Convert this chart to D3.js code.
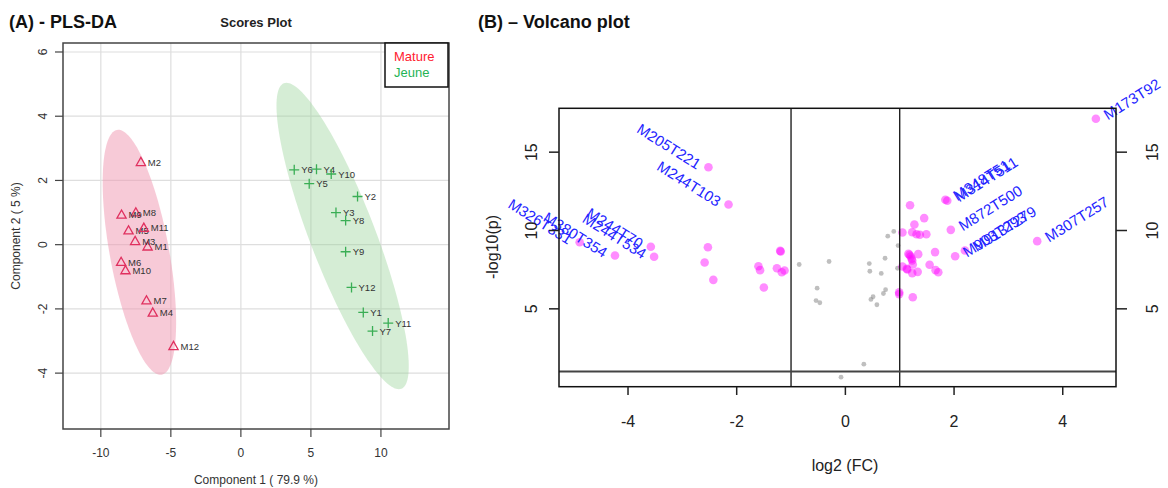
<!DOCTYPE html>
<html><head><meta charset="utf-8">
<script src="https://cdn.jsdelivr.net/npm/d3@7"></script>
<style>body{margin:0;background:#fff;} svg{display:block;font-family:"Liberation Sans",Arial,sans-serif;}</style>
</head><body><svg id="c" width="1168" height="488"></svg>
<script>
// ---------- Panel A data (PLS-DA scores) ----------
const matureLabels = ["M1","M2","M3","M4","M5","M6","M7","M8","M9","M10","M11","M12"];
const matureX = [-6.66,-7.14,-7.55,-6.29,-8.02,-8.55,-6.74,-7.50,-8.52,-8.24,-6.93,-4.81];
const matureY = [-0.06, 2.57, 0.11,-2.12, 0.44,-0.54,-1.74, 1.00, 0.93,-0.80, 0.52,-3.16];
const jeuneLabels = ["Y1","Y2","Y3","Y4","Y5","Y6","Y7","Y8","Y9","Y10","Y11","Y12"];
const jeuneX = [8.74, 8.33, 6.79, 5.40, 4.88, 3.81, 9.40, 7.48, 7.48, 6.45,10.52, 7.90];
const jeuneY = [-2.11, 1.50, 1.00, 2.35, 1.90, 2.33,-2.69, 0.75,-0.22, 2.20,-2.44,-1.33];
const scoreXTicks = [-10,-5,0,5,10];
const scoreYTicks = [-4,-2,0,2,4,6];
const legendNames = ["Mature","Jeune"];

// ---------- Panel B data (volcano) ----------
const sigX = [-4.89,-4.24,-3.58,-3.52,-2.52,-2.15,-2.53,-2.59,-2.43,-1.60,-1.57,-1.50,-1.19,-1.20,-1.26,-1.17,-1.12,
  1.19,1.45,1.27,1.05,1.23,1.31,1.37,1.49,1.16,1.18,1.20,1.22,1.23,1.24,1.34,1.05,1.13,1.14,1.23,1.33,1.55,1.65,1.66,1.71,
  0.99,0.99,1.24,2.02,2.20,1.94,1.84,1.875,3.53,4.61];
const sigY = [9.25,8.40,8.96,8.32,14.04,11.66,8.93,7.96,6.85,7.72,7.47,6.36,8.66,8.70,7.59,7.34,7.45,
  11.61,10.79,10.38,9.87,9.89,9.76,9.73,9.76,8.51,8.45,8.34,8.20,8.09,7.83,8.49,7.70,7.56,7.51,7.28,7.36,7.81,8.62,7.47,7.34,
  6.06,5.94,5.74,8.36,8.72,10.04,11.96,11.90,9.32,17.13];
const grayX = [-0.85,-0.30,-0.52,-0.54,-0.47,0.44,0.45,0.66,0.73,0.78,0.89,0.97,0.96,0.74,0.70,0.51,0.47,0.58,0.34,-0.08];
const grayY = [7.83,8.02,6.32,5.53,5.39,7.89,7.40,7.26,8.23,9.64,9.94,9.04,7.59,6.22,5.98,5.77,5.60,5.26,1.47,0.64];
const labelNames = ["M326T331","M380T354","M244T70","M244T534","M205T221","M244T103",
  "M903T293","M913T279","M872T500","M348T51","M314T511","M307T257","M173T92"];
const labelIdx = [0,1,2,3,4,5,44,45,46,47,48,49,50];
const volXTicks = [-4,-2,0,2,4];
const volYTicks = [5,10,15];
const fcThresh = [-1,1];
const pThresh = 1.0;

const svg = d3.select("#c");

// ================= Panel A =================
svg.append("text").attr("x",9).attr("y",22).attr("dominant-baseline","central")
  .attr("font-size",18).attr("font-weight","bold").attr("fill","#111").text("(A) - PLS-DA");
svg.append("text").attr("x",256).attr("y",22).attr("dominant-baseline","central").attr("text-anchor","middle")
  .attr("font-size",13).attr("font-weight","bold").attr("fill","#222").text("Scores Plot");

const ax = d3.scaleLinear().domain([-12.7,14.86]).range([63,449]);
const ay = d3.scaleLinear().domain([-5.74,6.28]).range([429,43]);

const gA = svg.append("g");
svg.append("clipPath").attr("id","clipA").append("rect").attr("x",63).attr("y",43).attr("width",386).attr("height",386);

gA.selectAll("line.gx").data(scoreXTicks).enter().append("line")
  .attr("x1",d=>ax(d)).attr("x2",d=>ax(d)).attr("y1",43).attr("y2",429).attr("stroke","#dedede").attr("stroke-width",1.2);
gA.selectAll("line.gy").data(scoreYTicks).enter().append("line")
  .attr("y1",d=>ay(d)).attr("y2",d=>ay(d)).attr("x1",63).attr("x2",449).attr("stroke","#dedede").attr("stroke-width",1.2);

function ellipse(xs, ys){
  const n = xs.length, mx = d3.mean(xs), my = d3.mean(ys);
  let sxx=0, syy=0, sxy=0;
  for(let i=0;i<n;i++){const dx=xs[i]-mx, dy=ys[i]-my; sxx+=dx*dx; syy+=dy*dy; sxy+=dx*dy;}
  sxx/=(n-1); syy/=(n-1); sxy/=(n-1);
  const tr=sxx+syy, det=sxx*syy-sxy*sxy, disc=Math.sqrt(tr*tr/4-det);
  const l1=tr/2+disc, l2=tr/2-disc;
  const th=Math.atan2(l1-sxx, sxy);
  const k=Math.sqrt(5.991);
  const pts=[];
  for(let i=0;i<=160;i++){
    const t=i/160*2*Math.PI;
    const u=k*Math.sqrt(l1)*Math.cos(t), v=k*Math.sqrt(l2)*Math.sin(t);
    pts.push([mx+u*Math.cos(th)-v*Math.sin(th), my+u*Math.sin(th)+v*Math.cos(th)]);
  }
  return pts;
}
const line = d3.line().x(d=>ax(d[0])).y(d=>ay(d[1]));
gA.append("path").attr("d",line(ellipse(matureX,matureY))).attr("fill","rgb(240,150,175)").attr("fill-opacity",0.5).attr("clip-path","url(#clipA)");
gA.append("path").attr("d",line(ellipse(jeuneX,jeuneY))).attr("fill","rgb(150,210,150)").attr("fill-opacity",0.4).attr("clip-path","url(#clipA)");

matureX.forEach((x,i)=>{
  const cx=ax(x), cy=ay(matureY[i]);
  gA.append("path").attr("d",`M${cx},${cy-4.8}L${cx+4.6},${cy+3.4}L${cx-4.6},${cy+3.4}Z`)
    .attr("fill","none").attr("stroke","#e0305f").attr("stroke-width",1.3);
  gA.append("text").attr("x",cx+7).attr("y",cy).attr("dominant-baseline","central")
    .attr("font-size",9.5).attr("fill","#333").text(matureLabels[i]);
});
jeuneX.forEach((x,i)=>{
  const cx=ax(x), cy=ay(jeuneY[i]);
  gA.append("path").attr("d",`M${cx-5},${cy}H${cx+5}M${cx},${cy-5}V${cy+5}`)
    .attr("fill","none").attr("stroke","#3aae55").attr("stroke-width",1.3);
  gA.append("text").attr("x",cx+7).attr("y",cy).attr("dominant-baseline","central")
    .attr("font-size",9.5).attr("fill","#333").text(jeuneLabels[i]);
});

gA.append("rect").attr("x",63).attr("y",43).attr("width",386).attr("height",386)
  .attr("fill","none").attr("stroke","#444").attr("stroke-width",1.5);

gA.selectAll("line.tx").data(scoreXTicks).enter().append("line")
  .attr("x1",d=>ax(d)).attr("x2",d=>ax(d)).attr("y1",429).attr("y2",437).attr("stroke","#444").attr("stroke-width",1.2);
gA.selectAll("text.tx").data(scoreXTicks).enter().append("text")
  .attr("x",d=>ax(d)).attr("y",453).attr("text-anchor","middle").attr("dominant-baseline","central")
  .attr("font-size",12).attr("fill","#333").text(d=>d);
gA.selectAll("line.ty").data(scoreYTicks).enter().append("line")
  .attr("y1",d=>ay(d)).attr("y2",d=>ay(d)).attr("x1",55).attr("x2",63).attr("stroke","#444").attr("stroke-width",1.2);
gA.selectAll("text.ty").data(scoreYTicks).enter().append("text")
  .attr("transform",d=>`translate(43,${ay(d)}) rotate(-90)`).attr("text-anchor","middle").attr("dominant-baseline","central")
  .attr("font-size",12).attr("fill","#333").text(d=>d);
gA.append("text").attr("x",256).attr("y",480).attr("text-anchor","middle").attr("dominant-baseline","central")
  .attr("font-size",12).attr("fill","#333").text("Component 1 ( 79.9 %)");
gA.append("text").attr("transform","translate(16,236) rotate(-90)").attr("text-anchor","middle").attr("dominant-baseline","central")
  .attr("font-size",12).attr("fill","#333").text("Component 2 ( 5 %)");

gA.append("rect").attr("x",385).attr("y",43).attr("width",63).attr("height",44)
  .attr("fill","#fff").attr("stroke","#111").attr("stroke-width",1.5);
const legColors = ["#ff2030","#25b355"];
legendNames.forEach((n,i)=>{
  gA.append("text").attr("x",394).attr("y",56+i*16.5).attr("dominant-baseline","central")
    .attr("font-size",13).attr("fill",legColors[i]).text(n);
});

// ================= Panel B =================
svg.append("text").attr("x",478).attr("y",22).attr("dominant-baseline","central")
  .attr("font-size",18).attr("font-weight","bold").attr("fill","#111").text("(B) \u2013 Volcano plot");

const vx = d3.scaleLinear().domain([-5.27,4.98]).range([559,1116]);
const vy = d3.scaleLinear().domain([0.03,17.8]).range([386.7,108.3]);
const gB = svg.append("g");

gB.selectAll("circle.g").data(grayX).enter().append("circle")
  .attr("cx",d=>vx(d)).attr("cy",(d,i)=>vy(grayY[i])).attr("r",2.4)
  .attr("fill","#808080").attr("fill-opacity",0.5);
gB.selectAll("circle.s").data(sigX).enter().append("circle")
  .attr("cx",d=>vx(d)).attr("cy",(d,i)=>vy(sigY[i])).attr("r",4.3)
  .attr("fill","#ff00ff").attr("fill-opacity",0.45);

fcThresh.forEach(t=>{
  gB.append("line").attr("x1",vx(t)).attr("x2",vx(t)).attr("y1",108.3).attr("y2",386.7).attr("stroke","#111").attr("stroke-width",1.3);
});
gB.append("line").attr("x1",559).attr("x2",1116).attr("y1",vy(pThresh)).attr("y2",vy(pThresh)).attr("stroke","#444").attr("stroke-width",2);

labelIdx.forEach((k,i)=>{
  const px=vx(sigX[k]), py=vy(sigY[k]);
  const left = sigX[k] < 0;
  gB.append("text")
    .attr("transform", left ? `translate(${px-9},${py-2}) rotate(32)` : `translate(${px+9},${py-3}) rotate(-32)`)
    .attr("text-anchor", left ? "end" : "start").attr("dominant-baseline","central")
    .attr("font-size",15).attr("fill","#2424ff").text(labelNames[i]);
});

gB.append("rect").attr("x",559).attr("y",108.3).attr("width",557).attr("height",278.4)
  .attr("fill","none").attr("stroke","#111").attr("stroke-width",1.5);

gB.selectAll("line.tx").data(volXTicks).enter().append("line")
  .attr("x1",d=>vx(d)).attr("x2",d=>vx(d)).attr("y1",386.7).attr("y2",395).attr("stroke","#222").attr("stroke-width",1.5);
gB.selectAll("text.tx").data(volXTicks).enter().append("text")
  .attr("x",d=>vx(d)).attr("y",421).attr("text-anchor","middle").attr("dominant-baseline","central")
  .attr("font-size",16).attr("fill","#222").text(d=>d);
gB.selectAll("line.tyl").data(volYTicks).enter().append("line")
  .attr("y1",d=>vy(d)).attr("y2",d=>vy(d)).attr("x1",549).attr("x2",559).attr("stroke","#222").attr("stroke-width",1.5);
gB.selectAll("line.tyr").data(volYTicks).enter().append("line")
  .attr("y1",d=>vy(d)).attr("y2",d=>vy(d)).attr("x1",1116).attr("x2",1127).attr("stroke","#222").attr("stroke-width",1.5);
gB.selectAll("text.tyl").data(volYTicks).enter().append("text")
  .attr("transform",d=>`translate(531,${vy(d)}) rotate(-90)`).attr("text-anchor","middle").attr("dominant-baseline","central")
  .attr("font-size",16).attr("fill","#222").text(d=>d);
gB.selectAll("text.tyr").data(volYTicks).enter().append("text")
  .attr("transform",d=>`translate(1152,${vy(d)}) rotate(-90)`).attr("text-anchor","middle").attr("dominant-baseline","central")
  .attr("font-size",16).attr("fill","#222").text(d=>d);
gB.append("text").attr("x",845).attr("y",465).attr("text-anchor","middle").attr("dominant-baseline","central")
  .attr("font-size",16).attr("fill","#222").text("log2 (FC)");
gB.append("text").attr("transform","translate(492,247) rotate(-90)").attr("text-anchor","middle").attr("dominant-baseline","central")
  .attr("font-size",16).attr("fill","#222").text("-log10(p)");
</script></body></html>
